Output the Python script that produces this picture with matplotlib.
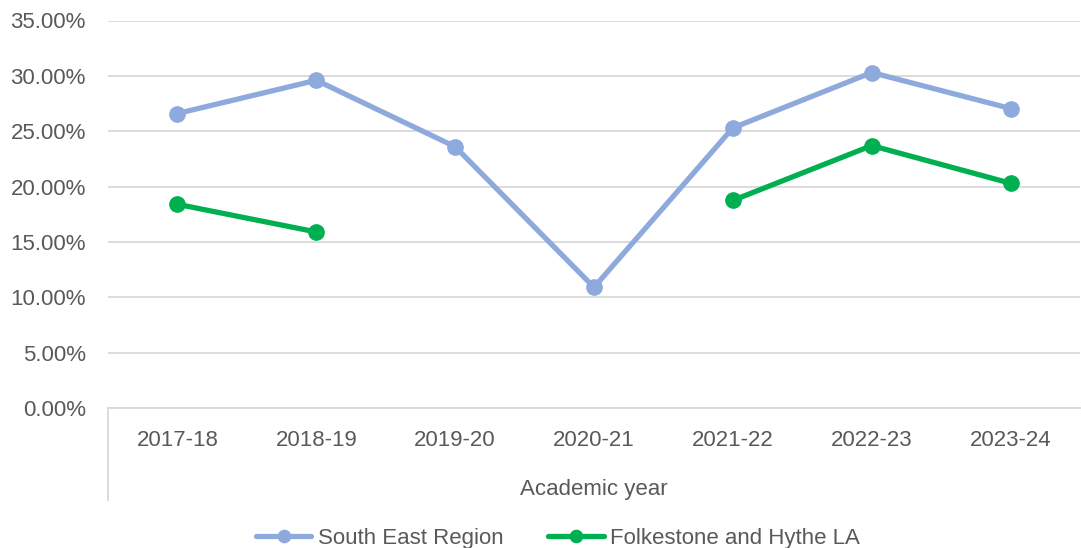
import numpy as np
import matplotlib
matplotlib.use("Agg")
import matplotlib.pyplot as plt
from matplotlib.ticker import FuncFormatter

years = ["2017-18", "2018-19", "2019-20", "2020-21", "2021-22", "2022-23", "2023-24"]
south_east = [26.6, 29.6, 23.6, 10.9, 25.3, 30.3, 27.05]
folkestone = [18.4, 15.9, np.nan, np.nan, 18.75, 23.7, 20.3]

plt.rcParams["font.family"] = ["Liberation Sans", "DejaVu Sans"]
text_col = "#595959"
fs = 16

fig = plt.figure(figsize=(10.81, 5.48), dpi=100)
ax = fig.add_axes([108 / 1081, 140 / 548, 972 / 1081, 387.5 / 548])

x = np.arange(len(years))
ax.plot(x, south_east, color="#8EA9DB", lw=3.8, marker="o", ms=11,
        label="South East Region", solid_capstyle="round", zorder=3)
ax.plot(x, folkestone, color="#00B050", lw=3.8, marker="o", ms=11,
        label="Folkestone and Hythe LA", solid_capstyle="round", zorder=3)

ax.set_xlim(-0.5, len(years) - 0.5)
ax.set_ylim(0, 35)
ax.set_yticks(np.arange(0, 36, 5))
ax.yaxis.set_major_formatter(FuncFormatter(lambda v, p: f"{v:.2f}%"))
ax.set_xticks(x)
ax.set_xticklabels(years)
ax.tick_params(axis="both", length=0, labelsize=fs, colors=text_col)
ax.tick_params(axis="x", pad=16)
ax.tick_params(axis="y", pad=16)
ax.grid(axis="y", color="#D9D9D9", lw=1.3)
ax.set_axisbelow(True)
for s in ["top", "right", "left"]:
    ax.spines[s].set_visible(False)
ax.spines["bottom"].set_color("#D9D9D9")
ax.spines["bottom"].set_linewidth(1.3)

# vertical line of the category axis below the plot
ax.plot([-0.5, -0.5], [0, -0.238 * 35], color="#D9D9D9", lw=1.3,
        clip_on=False, transform=ax.transData)

ax.set_xlabel("Academic year", fontsize=fs, color=text_col, labelpad=20)

ax.legend(loc="center", bbox_to_anchor=(0.5 - 36 / 972, -0.337), ncol=2,
          frameon=False, fontsize=fs, labelcolor=text_col, markerscale=0.8,
          handlelength=2.5, columnspacing=2.0, handletextpad=0.3)

plt.savefig("out.png", dpi=100)
